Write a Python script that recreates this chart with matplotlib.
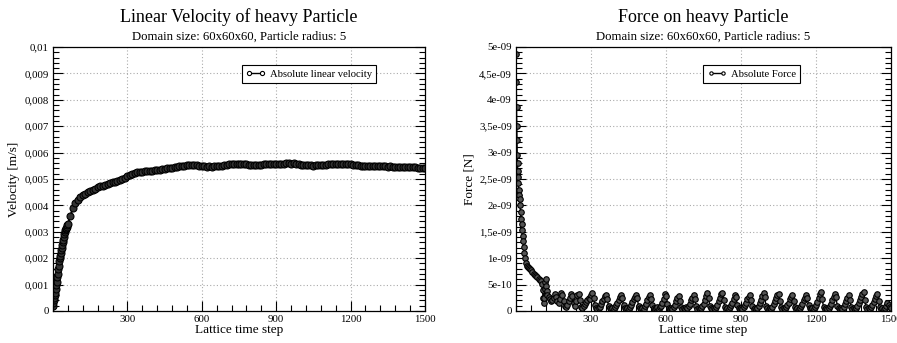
import numpy as np
import matplotlib
matplotlib.use("Agg")
import matplotlib.pyplot as plt
from matplotlib.ticker import MultipleLocator, FixedLocator, FixedFormatter

plt.rcParams["font.family"] = ["Liberation Serif", "DejaVu Serif"]

# ---- data ----
# velocity of the particle [m/s]
vel_steps_early = list(range(0, 61, 2))
vel_early = [0.0002, 0.0003, 0.0004, 0.0005, 0.0006, 0.0007, 0.00085, 0.001, 0.0011, 0.0013,
             0.0014, 0.0016, 0.0017, 0.0019, 0.002, 0.0021, 0.0022, 0.0023, 0.0024, 0.0025,
             0.0026, 0.0027, 0.0028, 0.0029, 0.003, 0.00305, 0.0031, 0.00315, 0.0032, 0.00325,
             0.0033]
vel_steps_late = list(range(70, 1501, 10))
vel_late = [0.0036, 0.0039, 0.0041, 0.0042, 0.0043, 0.00438, 0.00444, 0.0045, 0.00455, 0.0046,
            0.00464, 0.00468, 0.00472, 0.00475, 0.00478, 0.00481, 0.00484, 0.00487, 0.0049, 0.00493,
            0.00496, 0.005, 0.00505, 0.0051, 0.00515, 0.00519, 0.00522, 0.00525, 0.00527, 0.00528,
            0.0053, 0.0053, 0.00531, 0.00532, 0.00533, 0.00533, 0.00535, 0.00536, 0.00538, 0.0054,
            0.00541, 0.00542, 0.00544, 0.00546, 0.00548, 0.0055, 0.00551, 0.00552, 0.00553, 0.00552,
            0.00553, 0.00552, 0.0055, 0.00549, 0.00548, 0.00547, 0.00548, 0.00547, 0.00548, 0.00549,
            0.0055, 0.00551, 0.00553, 0.00554, 0.00556, 0.00557, 0.00558, 0.00558, 0.00558, 0.00557,
            0.00556, 0.00555, 0.00554, 0.00554, 0.00553, 0.00553, 0.00554, 0.00554, 0.00555, 0.00555,
            0.00556, 0.00556, 0.00555, 0.00556, 0.00557, 0.00557, 0.00558, 0.00559, 0.00559, 0.00558,
            0.00559, 0.00557, 0.00556, 0.00554, 0.00553, 0.00552, 0.00552, 0.00552, 0.00551, 0.00552,
            0.00552, 0.00553, 0.00554, 0.00554, 0.00555, 0.00555, 0.00556, 0.00556, 0.00556, 0.00557,
            0.00556, 0.00556, 0.00555, 0.00555, 0.00553, 0.00552, 0.00552, 0.00551, 0.0055, 0.0055,
            0.00551, 0.0055, 0.0055, 0.00549, 0.00549, 0.00549, 0.00548, 0.00548, 0.00547, 0.00548,
            0.00547, 0.00547, 0.00546, 0.00546, 0.00546, 0.00545, 0.00545, 0.00544, 0.00544, 0.00544,
            0.00543, 0.00542, 0.00542, 0.00543]

# force on the particle, in units of 1e-10 N
force_steps_early = [0, 1, 2, 3, 4, 5, 6, 7, 8, 9, 10,
                     12, 14, 16, 18, 20, 22, 24, 26, 28, 30,
                     33, 36, 40, 44, 48, 52, 56, 60,
                     65, 70, 75, 80, 85, 90, 95, 100,
                     103, 106, 108, 110, 112, 114, 116, 118, 120, 122, 125]
force_early = [48.7, 43.3, 38.7, 35.0, 32.4, 29.5, 28.0, 26.5, 25.3, 24.3, 23.0,
               22.0, 21.2, 20.0, 18.8, 17.5, 16.5, 15.3, 14.2, 13.2, 12.2,
               11.0, 10.0, 9.0, 8.6, 8.3, 8.1, 7.9, 7.7,
               7.4, 7.1, 6.8, 6.6, 6.4, 6.1, 5.9, 5.7,
               5.2, 4.0, 2.5, 1.6, 2.4, 4.2, 5.5, 6.0, 4.8, 3.8, 3.0]
force_steps_late = list(range(130, 1501, 5))
force_late = [2.6, 2.2, 1.8, 2.0, 2.4, 3.2, 2.6, 1.9, 1.6, 2.2,
              3.5, 3.0, 1.8, 1.0, 0.7, 1.2, 1.8, 2.4, 3.2, 2.8,
              1.6, 0.9, 1.8, 3.0, 3.3, 2.0, 0.8, 0.5, 0.9, 1.3,
              1.7, 2.0, 2.5, 2.2, 3.0, 3.5, 2.4, 1.2, 0.6, 0.4,
              0.5, 0.8, 1.3, 1.8, 2.2, 2.8, 3.0, 2.2, 1.0, 0.5,
              0.3, 0.6, 0.4, 0.8, 1.2, 1.6, 2.0, 2.6, 3.0, 2.4,
              1.2, 0.6, 0.3, 0.5, 0.4, 0.8, 1.2, 1.7, 2.2, 2.6,
              3.0, 2.4, 1.0, 0.5, 0.3, 0.6, 0.4, 0.9, 1.4, 2.0,
              2.6, 3.0, 2.3, 1.1, 0.6, 0.3, 0.5, 0.8, 0.4, 0.7,
              1.0, 1.5, 2.2, 3.2, 2.8, 1.4, 0.6, 0.3, 0.5, 0.4,
              0.8, 1.2, 1.8, 2.4, 2.9, 1.8, 0.8, 0.4, 0.5, 0.3,
              0.7, 0.5, 0.9, 1.4, 2.0, 2.5, 3.0, 2.2, 0.9, 0.4,
              0.6, 0.3, 0.5, 0.9, 1.3, 2.0, 2.8, 3.5, 2.5, 1.0,
              0.5, 0.3, 0.6, 0.4, 0.8, 1.2, 1.8, 2.4, 3.2, 3.5,
              2.0, 0.8, 0.4, 0.6, 0.3, 0.7, 1.2, 1.6, 2.2, 3.0,
              2.6, 1.2, 0.5, 0.3, 0.6, 0.4, 0.8, 1.1, 1.6, 2.2,
              2.6, 3.0, 2.1, 0.9, 0.4, 0.5, 0.3, 0.6, 1.0, 1.5,
              2.0, 2.8, 3.5, 2.6, 1.0, 0.5, 0.3, 0.6, 0.4, 0.8,
              1.3, 1.8, 2.4, 3.0, 3.3, 1.8, 0.7, 0.4, 0.5, 0.3,
              0.7, 1.1, 1.6, 2.2, 2.7, 3.0, 1.9, 0.8, 0.4, 0.5,
              0.3, 0.6, 0.9, 1.4, 2.0, 2.4, 3.0, 2.5, 1.1, 0.5,
              0.3, 0.6, 0.4, 0.8, 1.2, 1.7, 2.4, 3.2, 3.6, 2.2,
              0.8, 0.4, 0.6, 0.3, 0.5, 0.9, 1.4, 2.0, 2.6, 3.3,
              2.6, 1.0, 0.5, 0.3, 0.6, 0.4, 0.8, 1.3, 1.9, 2.5,
              3.0, 2.0, 0.8, 0.4, 0.5, 0.3, 0.6, 1.0, 1.5, 2.1,
              2.7, 3.2, 3.6, 2.0, 0.8, 0.4, 0.6, 0.3, 0.7, 1.1,
              1.7, 2.3, 2.9, 3.3, 1.8, 0.7, 0.4, 0.5, 0.3, 0.6,
              1.0, 1.5, 1.2, 0.8, 0.6]

x_ticks = [300, 600, 900, 1200, 1500]
x_labels = ["300", "600", "900", "1200", "1500"]
vel_ticks = [0, 0.001, 0.002, 0.003, 0.004, 0.005, 0.006, 0.007, 0.008, 0.009, 0.01]
vel_labels = ["0", "0,001", "0,002", "0,003", "0,004", "0,005", "0,006", "0,007", "0,008", "0,009", "0,01"]
force_ticks = [0, 5e-10, 1e-09, 1.5e-09, 2e-09, 2.5e-09, 3e-09, 3.5e-09, 4e-09, 4.5e-09, 5e-09]
force_labels = ["0", "5e-10", "1e-09", "1,5e-09", "2e-09", "2,5e-09", "3e-09", "3,5e-09", "4e-09", "4,5e-09", "5e-09"]

vel_t = np.array(vel_steps_early + vel_steps_late)
vel = np.array(vel_early + vel_late)
force_t = np.array(force_steps_early + force_steps_late)
force = np.array(force_early + force_late) * 1e-10

fig = plt.figure(figsize=(8.97, 3.43), dpi=100)
ax1 = fig.add_axes([53 / 897, 32 / 343, 372 / 897, 264 / 343])
ax2 = fig.add_axes([516 / 897, 32 / 343, 375 / 897, 264 / 343])


def style_axes(ax, yticks, ylabels, yminor, ymax, title, ylabel, label_x):
    ax.set_xlim(0, 1500)
    ax.set_ylim(0, ymax)
    ax.xaxis.set_major_locator(FixedLocator(x_ticks))
    ax.xaxis.set_major_formatter(FixedFormatter(x_labels))
    ax.xaxis.set_minor_locator(MultipleLocator(60))
    ax.yaxis.set_major_locator(FixedLocator(yticks))
    ax.yaxis.set_major_formatter(FixedFormatter(ylabels))
    ax.yaxis.set_minor_locator(MultipleLocator(yminor))
    ax.tick_params(which="both", direction="in", right=True, top=False,
                   labelsize=7.8, pad=3, width=0.8)
    ax.tick_params(which="major", length=7)
    ax.tick_params(which="minor", length=4)
    for s in ax.spines.values():
        s.set_linewidth(0.9)
    ax.grid(True, which="major", linestyle=(0, (1, 2)), color="#aaaaaa", linewidth=0.8)
    ax.set_axisbelow(True)
    ax.text(0.5, 1.112, title, transform=ax.transAxes, ha="center", va="center", fontsize=13)
    ax.text(0.5, 1.04, "Domain size: 60x60x60, Particle radius: 5", transform=ax.transAxes,
            ha="center", va="center", fontsize=9.2)
    ax.set_xlabel("Lattice time step", fontsize=9.5)
    ax.xaxis.set_label_coords(0.5, -0.05)
    ax.set_ylabel(ylabel, fontsize=9.5)
    ax.yaxis.set_label_coords(label_x, 0.5)


ax1.plot(vel_t, vel, color="black", linewidth=1.5, marker="o", markersize=5,
         markerfacecolor="#333333", markeredgecolor="black", markeredgewidth=0.8,
         label="Absolute linear velocity")
style_axes(ax1, vel_ticks, vel_labels, 0.0002, 0.01,
           "Linear Velocity of heavy Particle", "Velocity [m/s]", -0.088)

ax2.plot(force_t, force, color="black", linewidth=1.0, marker="o", markersize=4,
         markerfacecolor="#555555", markeredgecolor="black", markeredgewidth=0.8,
         label="Absolute Force")
style_axes(ax2, force_ticks, force_labels, 1e-10, 5e-09,
           "Force on heavy Particle", "Force [N]", -0.108)

for ax, anchor in ((ax1, (0.508, 0.864)), (ax2, (0.499, 0.864))):
    leg = ax.legend(loc="lower left", bbox_to_anchor=anchor, borderaxespad=0, fontsize=7.7,
                    numpoints=2, fancybox=False, framealpha=1, edgecolor="black",
                    handlelength=1.8, borderpad=0.4, handletextpad=0.4, markerscale=0.6)
    leg.get_frame().set_linewidth(0.8)
    for h in leg.legend_handles:
        h.set_markerfacecolor("white")
        h.set_linewidth(1.0)

fig.savefig("out.png", dpi=100)
